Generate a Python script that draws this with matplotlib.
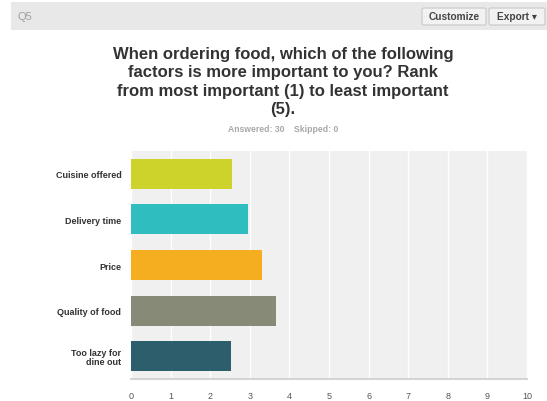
import matplotlib.pyplot as plt
from matplotlib.patches import Rectangle, FancyBboxPatch

plt.rcParams['font.family'] = ['Liberation Sans', 'DejaVu Sans']

categories = ["Cuisine offered", "Delivery time", "Price", "Quality of food", "Too lazy for\ndine out"]
scores = [2.55, 2.95, 3.30, 3.67, 2.53]
colors = ["#CDD32A", "#30BDC0", "#F4AE20", "#888A78", "#2D5E6B"]
xticks = list(range(0, 11))

title = ("When ordering food, which of the following\nfactors is more important to you? Rank\n"
         "from most important (1) to least important\n(5).")
answered = 30
skipped = 0

W, H = 547, 402
fig = plt.figure(figsize=(W / 100, H / 100), dpi=100)
fig.patch.set_facecolor("white")

# header band
fig.patches.append(Rectangle((11 / W, 1 - 31 / H), 1 - 11 / W, 28 / H, transform=fig.transFigure,
                             facecolor="#E8E8E8", edgecolor="none"))
fig.text(18 / W, 1 - 17 / H, "Q5", fontsize=8, color="#A0A0A0", va="center")
for x0, x1, lab in [(422, 486, "Customize"), (489, 545, "Export \u25be")]:
    fig.patches.append(FancyBboxPatch((x0 / W, 1 - 26 / H), (x1 - x0) / W, 17 / H,
                                      boxstyle="round,pad=0,rounding_size=0.004",
                                      transform=fig.transFigure, facecolor="#F2F2F2",
                                      edgecolor="#C8C8C8", linewidth=0.8))
    fig.text((x0 + x1) / 2 / W, 1 - 17.5 / H, lab, fontsize=7.3, color="#444444",
             ha="center", va="center", fontweight="bold")

fig.text(283 / W, 1 - 82 / H, title, fontsize=12, fontweight="bold", color="#333333",
         ha="center", va="center", linespacing=1.27)
fig.text(283 / W, 1 - 130 / H, f"Answered: {answered}    Skipped: {skipped}", fontsize=6.2,
         fontweight="bold", color="#A8A8A8", ha="center", va="center")

ax = fig.add_axes([131 / W, 22 / H, 396 / W, 228 / H])
ax.set_facecolor("#F0F0F0")
y = list(range(len(categories)))
ax.barh(y, scores, height=0.66, color=colors, zorder=3)
ax.set_ylim(len(categories) - 0.5, -0.5)
ax.set_xlim(0, 10)
ax.set_xticks(xticks)
ax.set_xticklabels([str(t) for t in xticks], fontsize=6.5, color="#555555")
ax.set_yticks(y)
ax.set_yticklabels(categories, fontsize=6.5, fontweight="bold", color="#333333", linespacing=1.0)
ax.tick_params(axis="both", length=0)
ax.tick_params(axis="x", pad=9)
ax.tick_params(axis="y", pad=7)
ax.grid(axis="x", color="white", linewidth=1, zorder=1)
for s in ["top", "right", "left"]:
    ax.spines[s].set_visible(False)
ax.spines["bottom"].set_color("#D4D4D4")
ax.spines["bottom"].set_linewidth(1.5)

fig.savefig("out.png", dpi=100)
